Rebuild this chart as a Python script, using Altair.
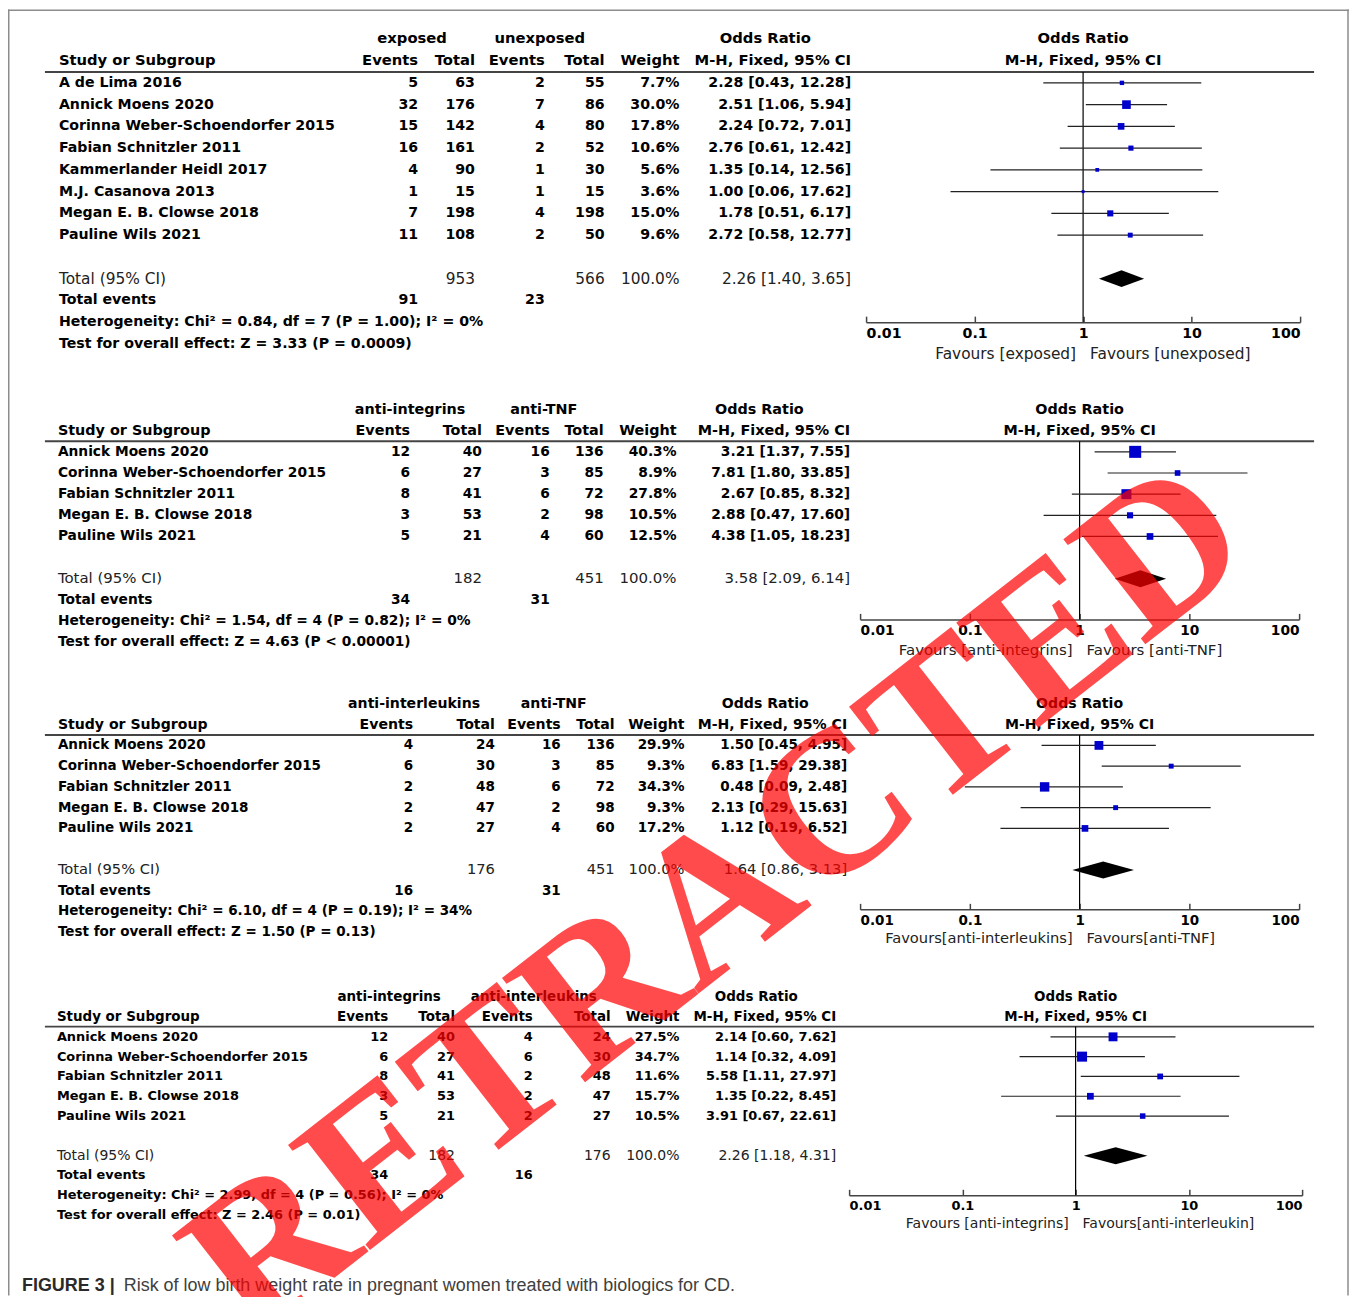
import altair as alt
import pandas as pd

# ---------------- data ----------------
STUDY_HDR = "Study or Subgroup"
COL_HEADERS = ["Events", "Total", "Events", "Total", "Weight", "M-H, Fixed, 95% CI"]
OR_TITLE = "Odds Ratio"
TOTAL_LABEL = "Total (95% CI)"
TOTAL_EVENTS_LABEL = "Total events"
TOTAL_WEIGHT = 100.0
TICKS = [0.01, 0.1, 1, 10, 100]
CAPTION_BOLD = "FIGURE 3 |"
CAPTION = "Risk of low birth weight rate in pregnant women treated with biologics for CD."
WATERMARK = "RETRACTED"

STUDIES_5 = ["Annick Moens 2020", "Corinna Weber-Schoendorfer 2015", "Fabian Schnitzler 2011",
             "Megan E. B. Clowse 2018", "Pauline Wils 2021"]

# comparison 1: exposed vs unexposed
C1_GROUPS = ["exposed", "unexposed"]
C1_FAVOURS = ["Favours [exposed]", "Favours [unexposed]"]
C1_STUDY = ["A de Lima 2016", "Annick Moens 2020", "Corinna Weber-Schoendorfer 2015",
            "Fabian Schnitzler 2011", "Kammerlander Heidl 2017", "M.J. Casanova 2013",
            "Megan E. B. Clowse 2018", "Pauline Wils 2021"]
C1_EV_A = [5, 32, 15, 16, 4, 1, 7, 11]
C1_N_A = [63, 176, 142, 161, 90, 15, 198, 108]
C1_EV_B = [2, 7, 4, 2, 1, 1, 4, 2]
C1_N_B = [55, 86, 80, 52, 30, 15, 198, 50]
C1_WEIGHT = [7.7, 30.0, 17.8, 10.6, 5.6, 3.6, 15.0, 9.6]
C1_OR = [2.28, 2.51, 2.24, 2.76, 1.35, 1.00, 1.78, 2.72]
C1_LO = [0.43, 1.06, 0.72, 0.61, 0.14, 0.06, 0.51, 0.58]
C1_HI = [12.28, 5.94, 7.01, 12.42, 12.56, 17.62, 6.17, 12.77]
C1_TOTAL_N = [953, 566]
C1_TOTAL_EV = [91, 23]
C1_POOLED = [2.26, 1.40, 3.65]
C1_HET = "Heterogeneity: Chi² = 0.84, df = 7 (P = 1.00); I² = 0%"
C1_TEST = "Test for overall effect: Z = 3.33 (P = 0.0009)"

# comparison 2: anti-integrins vs anti-TNF
C2_GROUPS = ["anti-integrins", "anti-TNF"]
C2_FAVOURS = ["Favours [anti-integrins]", "Favours [anti-TNF]"]
C2_EV_A = [12, 6, 8, 3, 5]
C2_N_A = [40, 27, 41, 53, 21]
C2_EV_B = [16, 3, 6, 2, 4]
C2_N_B = [136, 85, 72, 98, 60]
C2_WEIGHT = [40.3, 8.9, 27.8, 10.5, 12.5]
C2_OR = [3.21, 7.81, 2.67, 2.88, 4.38]
C2_LO = [1.37, 1.80, 0.85, 0.47, 1.05]
C2_HI = [7.55, 33.85, 8.32, 17.60, 18.23]
C2_TOTAL_N = [182, 451]
C2_TOTAL_EV = [34, 31]
C2_POOLED = [3.58, 2.09, 6.14]
C2_HET = "Heterogeneity: Chi² = 1.54, df = 4 (P = 0.82); I² = 0%"
C2_TEST = "Test for overall effect: Z = 4.63 (P < 0.00001)"

# comparison 3: anti-interleukins vs anti-TNF
C3_GROUPS = ["anti-interleukins", "anti-TNF"]
C3_FAVOURS = ["Favours[anti-interleukins]", "Favours[anti-TNF]"]
C3_EV_A = [4, 6, 2, 2, 2]
C3_N_A = [24, 30, 48, 47, 27]
C3_EV_B = [16, 3, 6, 2, 4]
C3_N_B = [136, 85, 72, 98, 60]
C3_WEIGHT = [29.9, 9.3, 34.3, 9.3, 17.2]
C3_OR = [1.50, 6.83, 0.48, 2.13, 1.12]
C3_LO = [0.45, 1.59, 0.09, 0.29, 0.19]
C3_HI = [4.95, 29.38, 2.48, 15.63, 6.52]
C3_TOTAL_N = [176, 451]
C3_TOTAL_EV = [16, 31]
C3_POOLED = [1.64, 0.86, 3.13]
C3_HET = "Heterogeneity: Chi² = 6.10, df = 4 (P = 0.19); I² = 34%"
C3_TEST = "Test for overall effect: Z = 1.50 (P = 0.13)"

# comparison 4: anti-integrins vs anti-interleukins
C4_GROUPS = ["anti-integrins", "anti-interleukins"]
C4_FAVOURS = ["Favours [anti-integrins]", "Favours[anti-interleukin]"]
C4_EV_A = [12, 6, 8, 3, 5]
C4_N_A = [40, 27, 41, 53, 21]
C4_EV_B = [4, 6, 2, 2, 2]
C4_N_B = [24, 30, 48, 47, 27]
C4_WEIGHT = [27.5, 34.7, 11.6, 15.7, 10.5]
C4_OR = [2.14, 1.14, 5.58, 1.35, 3.91]
C4_LO = [0.60, 0.32, 1.11, 0.22, 0.67]
C4_HI = [7.62, 4.09, 27.97, 8.45, 22.61]
C4_TOTAL_N = [182, 176]
C4_TOTAL_EV = [34, 16]
C4_POOLED = [2.26, 1.18, 4.31]
C4_HET = "Heterogeneity: Chi² = 2.99, df = 4 (P = 0.56); I² = 0%"
C4_TEST = "Test for overall effect: Z = 2.46 (P = 0.01)"

COMPARISONS = [
    dict(groups=C1_GROUPS, favours=C1_FAVOURS, study=C1_STUDY, ev_a=C1_EV_A, n_a=C1_N_A, ev_b=C1_EV_B,
         n_b=C1_N_B, w=C1_WEIGHT, orr=C1_OR, lo=C1_LO, hi=C1_HI, tot=C1_TOTAL_N, tev=C1_TOTAL_EV,
         pooled=C1_POOLED, het=C1_HET, test=C1_TEST),
    dict(groups=C2_GROUPS, favours=C2_FAVOURS, study=STUDIES_5, ev_a=C2_EV_A, n_a=C2_N_A, ev_b=C2_EV_B,
         n_b=C2_N_B, w=C2_WEIGHT, orr=C2_OR, lo=C2_LO, hi=C2_HI, tot=C2_TOTAL_N, tev=C2_TOTAL_EV,
         pooled=C2_POOLED, het=C2_HET, test=C2_TEST),
    dict(groups=C3_GROUPS, favours=C3_FAVOURS, study=STUDIES_5, ev_a=C3_EV_A, n_a=C3_N_A, ev_b=C3_EV_B,
         n_b=C3_N_B, w=C3_WEIGHT, orr=C3_OR, lo=C3_LO, hi=C3_HI, tot=C3_TOTAL_N, tev=C3_TOTAL_EV,
         pooled=C3_POOLED, het=C3_HET, test=C3_TEST),
    dict(groups=C4_GROUPS, favours=C4_FAVOURS, study=STUDIES_5, ev_a=C4_EV_A, n_a=C4_N_A, ev_b=C4_EV_B,
         n_b=C4_N_B, w=C4_WEIGHT, orr=C4_OR, lo=C4_LO, hi=C4_HI, tot=C4_TOTAL_N, tev=C4_TOTAL_EV,
         pooled=C4_POOLED, het=C4_HET, test=C4_TEST),
]

# ---------------- layout / style (pixels inside the figure) ----------------
W, H = 1344, 1289
FONT = "DejaVu Sans"
BLUE = "#0000cc"
LINE_X = (37, 1309)
LAYOUT = [
    dict(y0=30, step=21.8, line_r=1.5, axis_r=13.0, fav_r=14.45, forest=(860, 1295), dh=8.5, sq=2.5,
         cols=dict(name=51, e1=411, t1=468, e2=538, t2=598, w=673, ci=845, g1=405, g2=533, gor=759)),
    dict(y0=401, step=21.2, line_r=1.5, axis_r=9.92, fav_r=11.42, forest=(854, 1294), dh=8.5, sq=3.6,
         cols=dict(name=50, e1=403, t1=475, e2=543, t2=597, w=670, ci=844, g1=403, g2=537, gor=753)),
    dict(y0=696, step=20.8, line_r=1.5, axis_r=9.9, fav_r=11.35, forest=(854, 1294), dh=8.5, sq=2.6,
         cols=dict(name=50, e1=406, t1=488, e2=554, t2=608, w=678, ci=841, g1=407, g2=547, gor=759)),
    dict(y0=990, step=19.85, line_r=1.48, axis_r=10.0, fav_r=11.44, forest=(843, 1297), dh=8.5, sq=2.9,
         cols=dict(name=49, e1=381, t1=448, e2=526, t2=604, w=673, ci=830, g1=382, g2=527, gor=750)),
]
KINDS = {
    "grp": ("center", "bold", 14.8, "#000"),
    "hdrL": ("left", "bold", 14.8, "#000"),
    "hdrR": ("right", "bold", 14.8, "#000"),
    "bodyL": ("left", "bold", 14.2, "#000"),
    "bodyR": ("right", "bold", 14.2, "#000"),
    "totL": ("left", "normal", 15.4, "#222"),
    "totR": ("right", "normal", 15.4, "#222"),
}


def fmt_ci(o, l, h):
    return f"{o:.2f} [{l:.2f}, {h:.2f}]"


def block_layers(cmp, lay):
    s = lay["step"] / 21.8
    ysc = alt.Scale(domain=[0, 20], range=[lay["y0"], lay["y0"] + 20 * lay["step"]], nice=False, zero=False)
    xsc = alt.Scale(domain=[0, W], range=[0, W], nice=False, zero=False)
    lsc = alt.Scale(type="log", domain=[0.01, 100], range=list(lay["forest"]), nice=False)
    n = len(cmp["study"])

    cells = [(0, "g1", cmp["groups"][0], "grp"), (0, "g2", cmp["groups"][1], "grp"),
             (0, "gor", OR_TITLE, "grp"), (1, "name", STUDY_HDR, "hdrL")]
    for c, t in zip(["e1", "t1", "e2", "t2", "w", "ci"], COL_HEADERS):
        cells.append((1, c, t, "hdrR"))
    for i in range(n):
        r = 2 + i
        cells += [(r, "name", cmp["study"][i], "bodyL"),
                  (r, "e1", str(cmp["ev_a"][i]), "bodyR"), (r, "t1", str(cmp["n_a"][i]), "bodyR"),
                  (r, "e2", str(cmp["ev_b"][i]), "bodyR"), (r, "t2", str(cmp["n_b"][i]), "bodyR"),
                  (r, "w", f"{cmp['w'][i]:.1f}%", "bodyR"),
                  (r, "ci", fmt_ci(cmp["orr"][i], cmp["lo"][i], cmp["hi"][i]), "bodyR")]
    rt = n + 3
    p = cmp["pooled"]
    cells += [(rt, "name", TOTAL_LABEL, "totL"), (rt, "t1", str(cmp["tot"][0]), "totR"),
              (rt, "t2", str(cmp["tot"][1]), "totR"), (rt, "w", f"{TOTAL_WEIGHT:.1f}%", "totR"),
              (rt, "ci", fmt_ci(p[0], p[1], p[2]), "totR"),
              (rt + 1, "name", TOTAL_EVENTS_LABEL, "bodyL"), (rt + 1, "e1", str(cmp["tev"][0]), "bodyR"),
              (rt + 1, "e2", str(cmp["tev"][1]), "bodyR"),
              (rt + 2, "name", cmp["het"], "bodyL"), (rt + 3, "name", cmp["test"], "bodyL")]
    df = pd.DataFrame(cells, columns=["row", "col", "text", "kind"])
    df["px"] = df["col"].map(lay["cols"])

    layers = []
    for kind, (align, weight, size, color) in KINDS.items():
        sub = df[df["kind"] == kind][["row", "px", "text"]]
        layers.append(
            alt.Chart(sub).mark_text(align=align, baseline="middle", font=FONT, fontWeight=weight,
                                     fontSize=size * s, color=color).encode(
                x=alt.X("px:Q", scale=xsc, axis=None),
                y=alt.Y("row:Q", scale=ysc, axis=None),
                text="text:N"))

    one = pd.DataFrame({"k": [0]})
    # header rule across table and forest
    layers.append(alt.Chart(one).mark_rule(color="#444", strokeWidth=1.8).encode(
        x=alt.XDatum(LINE_X[0], type="quantitative", scale=xsc, axis=None),
        x2=alt.X2Datum(LINE_X[1]),
        y=alt.YDatum(lay["line_r"], type="quantitative", scale=ysc, axis=None)))
    # line of no effect
    layers.append(alt.Chart(one).mark_rule(color="#000", strokeWidth=1.2).encode(
        x=alt.XDatum(1, type="quantitative", scale=lsc, axis=None),
        y=alt.YDatum(lay["line_r"], type="quantitative", scale=ysc, axis=None),
        y2=alt.Y2Datum(lay["axis_r"])))

    axis_px = lay["y0"] + lay["axis_r"] * lay["step"]
    fdf = pd.DataFrame({"row": list(range(2, 2 + n)), "orr": cmp["orr"], "lo": cmp["lo"],
                        "hi": cmp["hi"], "w": cmp["w"]})
    layers.append(alt.Chart(fdf).mark_rule(color="#222", strokeWidth=1.2).encode(
        x=alt.X("lo:Q", scale=lsc, title=None,
                axis=alt.Axis(orient="top", offset=-axis_px, values=TICKS, labels=False, grid=False,
                              domain=True, ticks=True, tickSize=6, domainColor="#444", tickColor="#444",
                              domainWidth=1.5, tickWidth=1.5)),
        x2="hi:Q",
        y=alt.Y("row:Q", scale=ysc, axis=None)))
    layers.append(alt.Chart(fdf).mark_square(color=BLUE, opacity=1).encode(
        x=alt.X("orr:Q", scale=lsc, title=None,
                axis=alt.Axis(orient="bottom", offset=axis_px - H, values=TICKS, format="~g",
                              labelFlush=True, domain=False, ticks=False, tickSize=0, grid=False,
                              labelFont=FONT, labelFontWeight="bold", labelFontSize=14.2 * s,
                              labelColor="#000", labelPadding=4)),
        y=alt.Y("row:Q", scale=ysc, axis=None),
        size=alt.Size("w:Q", scale=alt.Scale(domain=[0, 100], range=[0, 100 * lay["sq"]]), legend=None)))
    hh = lay["dh"] / lay["step"]
    ddf = pd.DataFrame({"x": [p[1], p[0], p[2]], "y1": [rt, rt - hh, rt], "y2": [rt, rt + hh, rt]})
    layers.append(alt.Chart(ddf).mark_area(color="#000", orient="vertical", opacity=1).encode(
        x=alt.X("x:Q", scale=lsc, axis=None),
        y=alt.Y("y1:Q", scale=ysc, axis=None),
        y2="y2:Q"))
    # forest header
    hdf = pd.DataFrame({"row": [0, 1], "text": [OR_TITLE, COL_HEADERS[-1]]})
    layers.append(alt.Chart(hdf).mark_text(align="center", baseline="middle", font=FONT, fontWeight="bold",
                                           fontSize=14.8 * s, color="#000").encode(
        x=alt.XDatum(1, type="quantitative", scale=lsc, axis=None),
        y=alt.Y("row:Q", scale=ysc, axis=None),
        text="text:N"))
    for side, (align, dx) in enumerate([("right", -7), ("left", 7)]):
        fav = pd.DataFrame({"text": [cmp["favours"][side]]})
        layers.append(alt.Chart(fav).mark_text(align=align, dx=dx, baseline="middle", font=FONT,
                                               fontSize=15.4 * s, color="#222").encode(
            x=alt.XDatum(1, type="quantitative", scale=lsc, axis=None),
            y=alt.YDatum(lay["fav_r"], type="quantitative", scale=ysc, axis=None),
            text="text:N"))
    return layers


layers = []
one = pd.DataFrame({"k": [0]})
FRAME = "#8c8c8c"
layers.append(alt.Chart(one).mark_rule(color=FRAME, strokeWidth=1.5).encode(
    x=alt.value(0), x2=alt.value(W), y=alt.value(0.75)))
layers.append(alt.Chart(one).mark_rule(color=FRAME, strokeWidth=1.5).encode(
    x=alt.value(0.75), y=alt.value(0), y2=alt.value(H)))
layers.append(alt.Chart(one).mark_rule(color=FRAME, strokeWidth=1.5).encode(
    x=alt.value(1343), y=alt.value(0), y2=alt.value(H)))

for cmp, lay in zip(COMPARISONS, LAYOUT):
    layers += block_layers(cmp, lay)

cap1 = pd.DataFrame({"text": [CAPTION_BOLD]})
cap2 = pd.DataFrame({"text": [CAPTION]})
layers.append(alt.Chart(cap1).mark_text(align="left", baseline="middle", font="Liberation Sans",
                                        fontWeight="bold", fontSize=18, color="#2a2a2a").encode(
    x=alt.value(14), y=alt.value(1279), text="text:N"))
layers.append(alt.Chart(cap2).mark_text(align="left", baseline="middle", font="Liberation Sans",
                                        fontSize=18, color="#404040").encode(
    x=alt.value(116), y=alt.value(1279), text="text:N"))

wm = pd.DataFrame({"text": [WATERMARK]})
layers.append(alt.Chart(wm).mark_text(align="center", baseline="middle", font="Liberation Serif",
                                      fontWeight="bold", fontSize=204, angle=322, color="#ff0000",
                                      opacity=0.7).encode(
    x=alt.value(711), y=alt.value(894), text="text:N"))

chart = alt.layer(*layers).resolve_scale(
    x="independent", y="independent", size="independent"
).properties(
    width=W, height=H, padding=0, background="white",
    autosize=alt.AutoSizeParams(type="none"),
).configure_view(strokeWidth=0)

chart.save("out.html", embed_options={"renderer": "svg", "actions": False})
